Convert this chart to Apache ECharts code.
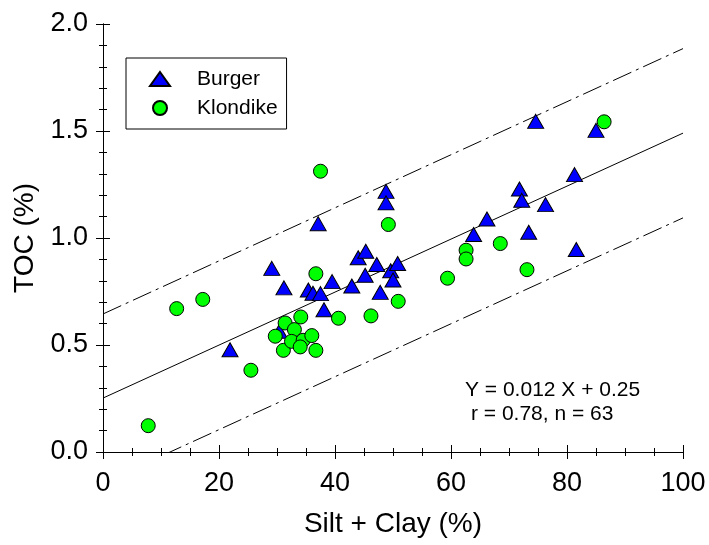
<!DOCTYPE html>
<html>
<head>
<meta charset="utf-8">
<script src="https://cdn.jsdelivr.net/npm/echarts@6/dist/echarts.min.js"></script>
<style>
  html, body { margin: 0; padding: 0; background: #fff; }
  #chart { width: 709px; height: 545px; }
</style>
</head>
<body>
<div id="chart"></div>
<script>
// Burger samples: silt + clay (%) and TOC (%)
const burgerSiltClay = [21.9, 29.1, 30.4, 31.2, 35.4, 36.2, 37.5, 37.1, 38.1, 39.5, 42.9,
  44.0, 45.3, 45.2, 47.2, 47.8, 48.8, 48.8, 49.6, 50.0, 50.8, 63.9, 66.2, 71.8, 72.2,
  73.4, 74.6, 76.3, 81.3, 81.6, 85.0];
const burgerTOC = [0.478, 0.858, 0.564, 0.767, 0.757, 0.742, 0.740, 1.067, 0.665, 0.796, 0.776,
  0.908, 0.938, 0.826, 0.876, 0.746, 1.218, 1.164, 0.847, 0.804, 0.881, 1.016, 1.089, 1.229, 1.176,
  1.027, 1.545, 1.156, 1.296, 0.946, 1.503];

// Klondike samples: silt + clay (%) and TOC (%)
const klondikeSiltClay = [7.8, 12.7, 17.2, 25.5, 29.7, 31.4, 31.1, 33.0, 32.5, 34.1, 34.5,
  34.0, 36.0, 36.7, 36.7, 37.5, 40.6, 46.2, 49.2, 50.9, 59.4, 62.6, 62.6, 68.5, 73.1, 86.4];
const klondikeTOC = [0.123, 0.670, 0.713, 0.382, 0.541, 0.603, 0.475, 0.572, 0.517, 0.631, 0.522,
  0.491, 0.544, 0.475, 0.833, 1.312, 0.625, 0.636, 1.063, 0.704, 0.812, 0.943, 0.902, 0.974, 0.852, 1.543];

// Regression line and its prediction band (end points at x = 0 and x = 100)
const fitX = [0, 100];
const fitY = [0.252, 1.490];
const upperY = [0.645, 1.885];
const lowerY = [-0.143, 1.094];

// Axis ticks
const xTicks = [0, 20, 40, 60, 80, 100];
const yTicks = ['0.0', '0.5', '1.0', '1.5', '2.0'];

const fitText = ['Y = 0.012 X + 0.25', 'r = 0.78, n = 63'];

const pairs = (xs, ys) => xs.map((x, i) => [x, ys[i]]);

const FONT = 'Liberation Sans, Arial, sans-serif';
const chart = echarts.init(document.getElementById('chart'), null, { renderer: 'canvas' });

const frameAxis = {
  axisLine: { show: true, lineStyle: { color: '#000', width: 1 } },
  splitLine: { show: false },
};

const lineSeries = (name, ys, dash) => ({
  name,
  type: 'line',
  data: pairs(fitX, ys),
  symbol: 'none',
  clip: true,
  silent: true,
  z: 1,
  lineStyle: { color: '#000', width: 1, type: dash }
});

chart.setOption({
  animation: false,
  backgroundColor: '#fff',
  textStyle: { fontFamily: FONT },
  grid: { left: 103, right: 26, top: 24, bottom: 93, containLabel: false },
  legend: {
    orient: 'vertical',
    left: 126,
    top: 58,
    padding: [10, 9, 10, 23],
    itemWidth: 20,
    itemHeight: 14,
    itemGap: 7,
    borderColor: '#000',
    borderWidth: 1,
    backgroundColor: '#fff',
    selectedMode: false,
    data: ['Burger', 'Klondike'],
    textStyle: { fontFamily: FONT, fontSize: 21, lineHeight: 22, color: '#000', padding: [0, 0, 0, 22] }
  },
  xAxis: [
    Object.assign({
      type: 'value', min: 0, max: 100, interval: 20,
      name: 'Silt + Clay (%)', nameLocation: 'middle', nameGap: 58,
      nameTextStyle: { fontFamily: FONT, fontSize: 28, color: '#000' },
      axisTick: { show: true, inside: true, length: 7, lineStyle: { color: '#000' } },
      minorTick: { show: true, splitNumber: 4, length: 4, lineStyle: { color: '#000' } },
      axisLabel: { fontFamily: FONT, fontSize: 27, color: '#000', margin: 18,
        formatter: v => String(xTicks[Math.round(v / 20)]) }
    }, frameAxis),
    Object.assign({
      type: 'value', min: 0, max: 100, interval: 20, position: 'top',
      axisTick: { show: true, inside: true, length: 7, lineStyle: { color: '#000' } },
      minorTick: { show: true, splitNumber: 4, length: 4, lineStyle: { color: '#000' } },
      axisLabel: { show: false }
    }, frameAxis)
  ],
  yAxis: [
    Object.assign({
      type: 'value', min: 0, max: 2, interval: 0.5,
      name: 'TOC (%)', nameLocation: 'middle', nameGap: 58, nameRotate: 90,
      nameTextStyle: { fontFamily: FONT, fontSize: 28, color: '#000' },
      axisTick: { show: true, inside: true, length: 7, lineStyle: { color: '#000' } },
      minorTick: { show: true, splitNumber: 5, length: 4, lineStyle: { color: '#000' } },
      axisLabel: { fontFamily: FONT, fontSize: 27, color: '#000', margin: 15,
        formatter: v => yTicks[Math.round(v / 0.5)] }
    }, frameAxis),
    Object.assign({
      type: 'value', min: 0, max: 2, interval: 0.5, position: 'right',
      axisTick: { show: true, inside: true, length: 7, lineStyle: { color: '#000' } },
      minorTick: { show: true, splitNumber: 5, length: 4, lineStyle: { color: '#000' } },
      axisLabel: { show: false }
    }, frameAxis)
  ],
  series: [
    lineSeries('fit', fitY, 'solid'),
    lineSeries('upper', upperY, [20, 5, 3, 5]),
    lineSeries('lower', lowerY, [20, 5, 3, 5]),
    {
      name: 'Burger',
      type: 'scatter',
      data: pairs(burgerSiltClay, burgerTOC),
      symbol: 'triangle',
      symbolSize: [16, 14],
      z: 3,
      itemStyle: { color: '#0000ff', borderColor: '#000', borderWidth: 1, opacity: 1 }
    },
    {
      name: 'Klondike',
      type: 'scatter',
      data: pairs(klondikeSiltClay, klondikeTOC),
      symbol: 'circle',
      symbolSize: 14,
      z: 4,
      itemStyle: { color: '#00ff00', borderColor: '#000', borderWidth: 1, opacity: 1 }
    }
  ],
  graphic: [
    { type: 'text', left: 465, top: 380, silent: true,
      style: { text: fitText[0], font: '21px ' + FONT, fill: '#000' } },
    { type: 'text', left: 471, top: 404, silent: true,
      style: { text: fitText[1], font: '21px ' + FONT, fill: '#000' } }
  ]
});
</script>
</body>
</html>
